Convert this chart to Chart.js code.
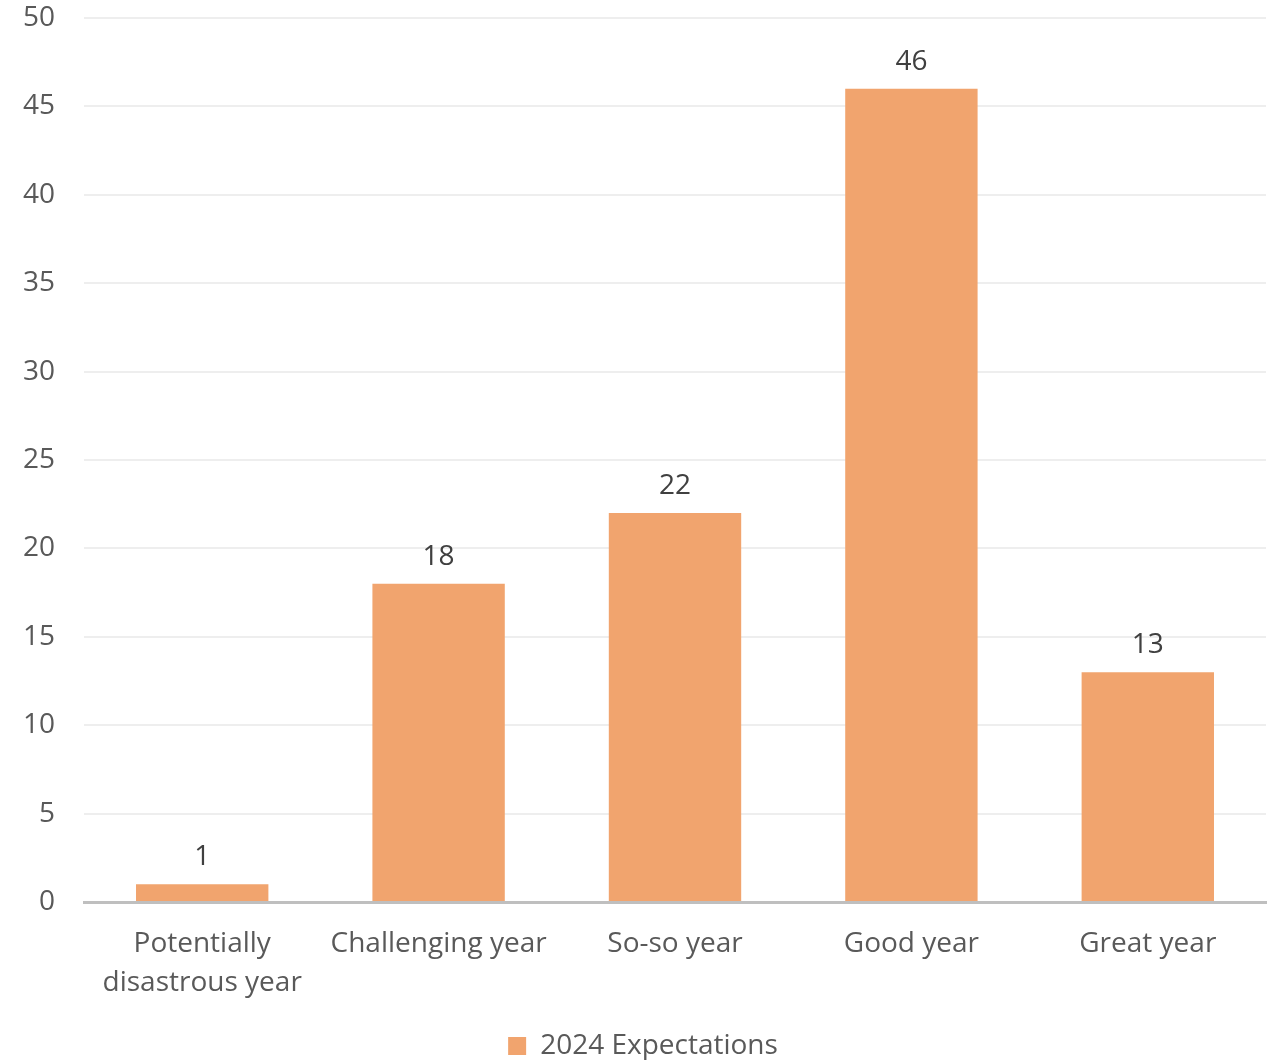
<html>
<head>
	<meta charset="UTF-8" />
	<script src="https://cdn.jsdelivr.net/npm/chart.js@4.4.0/dist/chart.umd.min.js"></script>
	<style>
		body { margin: 0; background: #ffffff; }
	</style>
</head>
<body>
	<canvas id="myChart" width="1271" height="1060"></canvas>
	<script>
const categories = [["Potentially", "disastrous year"], "Challenging year", "So-so year", "Good year", "Great year"];
const expectations = [1, 18, 22, 46, 13];
const seriesName = "2024 Expectations";
const yTicks = [0, 5, 10, 15, 20, 25, 30, 35, 40, 45, 50];

const barColor = "#F1A46E";
const textColor = "#595959";
const fontFamily = "'Open Sans', 'Noto Sans', sans-serif";

// value labels above each bar
const valueLabels = {
	id: "valueLabels",
	afterDatasetsDraw(chart) {
		const ctx = chart.ctx;
		ctx.save();
		ctx.font = "28px " + fontFamily;
		ctx.fillStyle = "#404040";
		ctx.textAlign = "center";
		ctx.textBaseline = "bottom";
		chart.getDatasetMeta(0).data.forEach((bar, i) => {
			ctx.fillText(expectations[i], bar.x, bar.y - 13);
		});
		ctx.restore();
	}
};

// push the legend a little further down into the bottom margin
const legendNudge = {
	id: "legendNudge",
	afterLayout(chart) {
		chart.legend.top += 10;
		chart.legend.bottom += 10;
	}
};

new Chart(document.getElementById("myChart").getContext("2d"), {
	type: "bar",
	data: {
		labels: categories,
		datasets: [
			{ label: seriesName, data: expectations, backgroundColor: barColor, barPercentage: 0.56, categoryPercentage: 1.0 }
		]
	},
	options: {
		responsive: false,
		maintainAspectRatio: false,
		animation: false,
		layout: { padding: { top: 0, right: 5, left: 20, bottom: 0 } },
		scales: {
			x: {
				grid: { display: false, drawTicks: false },
				border: { color: "#BFBFBF", width: 3 },
				ticks: { color: textColor, font: { family: fontFamily, size: 28, lineHeight: 1.4 }, padding: 22, maxRotation: 0 },
				afterFit: (axis) => { axis.height = 120; }
			},
			y: {
				min: 0,
				max: 50,
				afterBuildTicks: (axis) => { axis.ticks = yTicks.map(v => ({ value: v })); },
				afterFit: (axis) => { axis.width = 64; axis.paddingTop = 18; axis.paddingBottom = 0; },
				grid: { color: "#EEEEEE", lineWidth: 2, drawTicks: false },
				border: { display: false },
				ticks: { color: textColor, font: { family: fontFamily, size: 28 }, padding: 29 }
			}
		},
		plugins: {
			legend: {
				position: "bottom",
				labels: { color: textColor, font: { family: fontFamily, size: 28 }, boxWidth: 18, boxHeight: 18, padding: 0 }
			},
			tooltip: { enabled: false }
		}
	},
	plugins: [valueLabels, legendNudge]
});
	</script>
</body>
</html>
